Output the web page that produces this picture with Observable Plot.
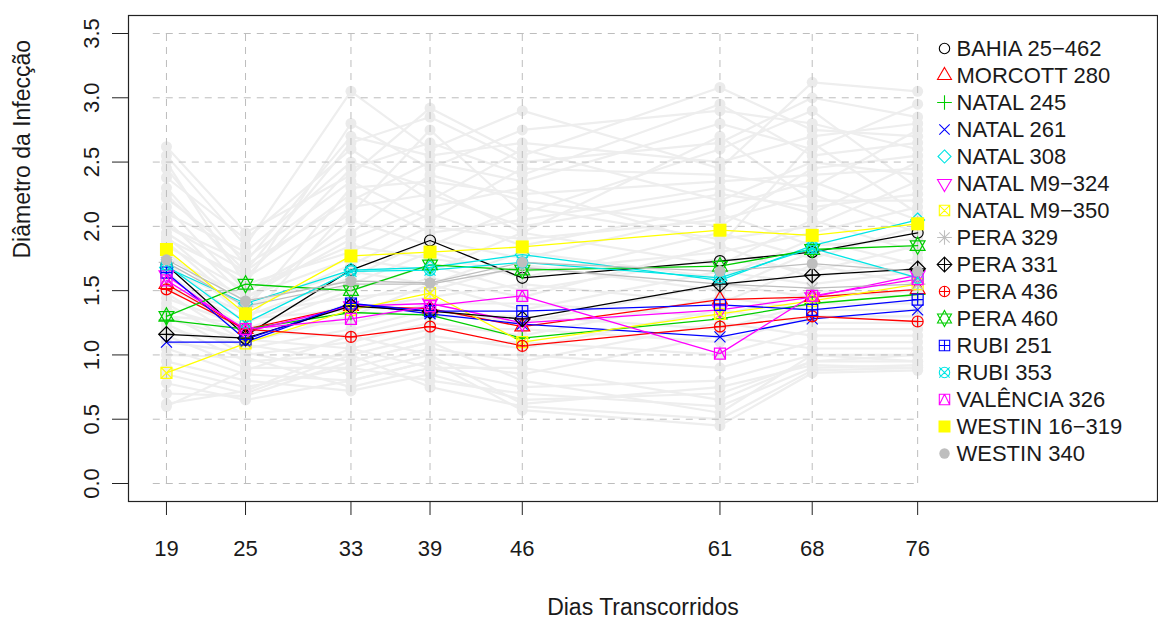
<!DOCTYPE html>
<html>
<head>
<meta charset="utf-8">
<script src="https://cdn.jsdelivr.net/npm/d3@7"></script>
<script src="https://cdn.jsdelivr.net/npm/@observablehq/plot@0.6"></script>
<style>
  html, body { margin: 0; padding: 0; background: #fff; }
  #wrap { position: relative; width: 1158px; height: 620px; }
  #legend { position: absolute; left: 930px; top: 34px; }
</style>
</head>
<body>
<div id="wrap"><div id="legend"></div></div>
<script>
// ---------- data ----------
const days = [19, 25, 33, 39, 46, 61, 68, 76];
const yTicks = [0, 0.5, 1, 1.5, 2, 2.5, 3, 3.5];

const seriesNames = [
  "BAHIA 25−462", "MORCOTT 280", "NATAL 245", "NATAL 261", "NATAL 308",
  "NATAL M9−324", "NATAL M9−350", "PERA 329", "PERA 331", "PERA 436",
  "PERA 460", "RUBI 251", "RUBI 353", "VALÊNCIA 326", "WESTIN 16−319", "WESTIN 340"
];
const seriesColors = [
  "#000000", "#ff0000", "#00cd00", "#0000ff", "#00e5e5",
  "#ff00ff", "#ffff00", "#bebebe", "#000000", "#ff0000",
  "#00cd00", "#0000ff", "#00e5e5", "#ff00ff", "#ffff00", "#bebebe"
];
const seriesPch = [1, 2, 3, 4, 5, 6, 7, 8, 9, 10, 11, 12, 13, 14, 15, 16];

const valBahia     = [1.70, 1.15, 1.66, 1.89, 1.60, 1.73, 1.80, 1.95];
const valMorcott   = [1.55, 1.20, 1.38, 1.36, 1.22, 1.43, 1.45, 1.51];
const valNatal245  = [1.27, 1.20, 1.33, 1.31, 1.13, 1.28, 1.40, 1.47];
const valNatal261  = [1.10, 1.10, 1.40, 1.32, 1.24, 1.14, 1.28, 1.35];
const valNatal308  = [1.68, 1.40, 1.66, 1.68, 1.78, 1.58, 1.85, 2.05];
const valNatalM324 = [1.62, 1.18, 1.38, 1.40, 1.25, 1.35, 1.45, 1.62];
const valNatalM350 = [0.86, 1.09, 1.35, 1.48, 1.10, 1.32, 1.42, 1.55];
const valPera329   = [1.72, 1.38, 1.55, 1.55, 1.68, 1.55, 1.52, 1.55];
const valPera331   = [1.16, 1.13, 1.38, 1.34, 1.28, 1.55, 1.62, 1.67];
const valPera436   = [1.51, 1.20, 1.14, 1.22, 1.07, 1.22, 1.30, 1.26];
const valPera460   = [1.30, 1.55, 1.50, 1.70, 1.66, 1.69, 1.82, 1.85];
const valRubi251   = [1.64, 1.12, 1.40, 1.34, 1.34, 1.39, 1.35, 1.43];
const valRubi353   = [1.70, 1.25, 1.65, 1.66, 1.72, 1.60, 1.83, 1.60];
const valValencia  = [1.58, 1.20, 1.28, 1.38, 1.46, 1.01, 1.46, 1.59];
const valWestin319 = [1.82, 1.32, 1.77, 1.80, 1.84, 1.97, 1.93, 2.02];
const valWestin340 = [1.74, 1.42, 1.575, 1.56, 1.72, 1.65, 1.71, 1.65];

const seriesValues = [
  valBahia, valMorcott, valNatal245, valNatal261, valNatal308, valNatalM324,
  valNatalM350, valPera329, valPera331, valPera436, valPera460, valRubi251,
  valRubi353, valValencia, valWestin319, valWestin340
];

// all other isolates (light grey background), values per day
const backgroundLines = [
  [2.62,1.95,2.40,2.92,2.55,3.08,2.75,2.70],
  [2.55,1.85,3.05,2.60,2.90,2.45,3.12,3.05],
  [2.45,1.70,2.20,2.50,2.35,2.80,2.60,2.95],
  [2.38,1.90,2.60,2.20,2.60,2.20,2.50,2.40],
  [2.30,1.60,2.10,2.75,2.10,2.60,2.90,2.30],
  [2.22,1.75,2.35,2.05,2.45,2.40,2.30,2.75],
  [2.15,1.50,1.95,2.40,2.20,2.00,2.45,2.55],
  [2.10,1.80,2.50,2.30,1.95,2.70,2.20,2.20],
  [2.05,1.45,1.90,2.15,2.30,1.85,2.65,2.10],
  [2.00,1.65,2.25,1.95,2.05,2.30,2.10,2.50],
  [1.95,1.55,1.80,2.10,1.85,2.15,2.35,2.05],
  [1.92,1.40,2.05,1.85,2.15,1.90,2.00,2.35],
  [1.88,1.35,1.70,2.00,1.90,2.05,2.25,1.95],
  [1.85,1.50,1.85,1.75,1.65,1.80,1.95,2.15],
  [1.80,1.30,1.60,1.90,1.75,2.10,1.85,1.90],
  [1.76,1.45,1.75,1.65,1.95,1.70,2.05,1.80],
  [1.72,1.25,1.55,1.80,1.60,1.95,1.75,2.00],
  [1.68,1.38,1.65,1.55,1.80,1.60,1.90,1.70],
  [1.64,1.20,1.50,1.70,1.50,1.75,1.65,1.85],
  [1.60,1.32,1.45,1.50,1.70,1.50,1.80,1.60],
  [1.56,1.15,1.40,1.60,1.45,1.85,1.60,1.75],
  [1.52,1.28,1.35,1.45,1.55,1.40,1.70,1.55],
  [1.48,1.10,1.30,1.55,1.35,1.65,1.55,1.65],
  [1.44,1.22,1.25,1.40,1.40,1.30,1.50,1.45],
  [1.40,1.05,1.20,1.35,1.25,1.55,1.45,1.50],
  [1.36,1.18,1.15,1.30,1.30,1.20,1.40,1.40],
  [1.32,1.00,1.10,1.25,1.15,1.45,1.35,1.35],
  [1.28,1.12,1.05,1.20,1.20,1.10,1.30,1.30],
  [1.24,0.95,1.00,1.15,1.05,1.35,1.25,1.25],
  [1.20,1.08,0.95,1.10,1.10,1.00,1.20,1.20],
  [1.15,0.90,0.90,1.05,0.95,1.25,1.15,1.15],
  [1.10,1.02,0.85,1.00,1.00,0.90,1.10,1.10],
  [1.05,0.85,0.80,0.95,0.85,1.15,1.05,1.05],
  [1.00,0.98,0.75,0.90,0.75,0.80,1.00,1.00],
  [0.95,0.80,0.72,0.85,0.65,0.70,0.95,0.95],
  [0.90,0.75,0.90,0.80,0.70,0.60,0.90,0.92],
  [0.85,0.70,1.00,0.75,0.60,0.50,0.88,0.90],
  [0.78,0.65,0.80,0.95,0.57,0.45,0.86,0.88],
  [0.70,0.68,0.95,1.10,0.80,0.55,1.00,0.95],
  [0.62,0.72,1.05,0.90,0.90,0.65,0.95,1.00],
  [0.60,0.88,1.15,1.00,0.62,0.75,0.92,0.90],
  [2.50,1.55,2.80,2.45,2.75,2.90,2.80,2.60],
  [2.25,1.65,2.65,2.85,2.50,2.65,3.00,2.85],
  [2.00,1.72,2.70,2.55,2.65,2.50,2.70,2.80],
  [1.90,1.60,2.45,2.65,2.40,2.95,2.55,2.65],
  [1.50,1.35,2.30,2.35,2.25,2.35,2.40,2.45],
  [1.30,1.25,2.15,2.25,2.00,2.25,2.15,2.25]
];

// ---------- tables ----------
const bgRows = backgroundLines.flatMap((vals, i) => vals.map((v, j) => ({id: i, day: days[j], value: v})));
const seriesRows = seriesNames.map((name, i) => seriesValues[i].map((v, j) => ({name, day: days[j], value: v})));

// ---------- R-style pch symbols ----------
function pchSymbol(pch) {
  return {
    draw(ctx, size) {
      const R = Math.sqrt(size / Math.PI);
      const circle = (r) => { ctx.moveTo(r, 0); ctx.arc(0, 0, r, 0, 2 * Math.PI); };
      const seg = (x1, y1, x2, y2) => { ctx.moveTo(x1, y1); ctx.lineTo(x2, y2); };
      const poly = (pts) => { ctx.moveTo(pts[0][0], pts[0][1]); for (let k = 1; k < pts.length; k++) ctx.lineTo(pts[k][0], pts[k][1]); ctx.closePath(); };
      const sq = (h) => poly([[-h, -h], [h, -h], [h, h], [-h, h]]);
      const plus = (h) => { seg(-h, 0, h, 0); seg(0, -h, 0, h); };
      const times = (h) => { seg(-h, -h, h, h); seg(-h, h, h, -h); };
      const tri = (down) => {
        const t = 1.555 * R, b = 0.778 * R, w = 1.347 * R, s = down ? -1 : 1;
        poly([[0, -t * s], [w, b * s], [-w, b * s]]);
      };
      switch (pch) {
        case 1: circle(R); break;
        case 2: tri(false); break;
        case 3: plus(1.414 * R); break;
        case 4: times(R); break;
        case 5: poly([[0, -1.253 * R], [1.253 * R, 0], [0, 1.253 * R], [-1.253 * R, 0]]); break;
        case 6: tri(true); break;
        case 7: sq(R); times(R); break;
        case 8: times(R); plus(1.414 * R); break;
        case 9: { const h = 1.414 * R; poly([[0, -h], [h, 0], [0, h], [-h, 0]]); plus(h); break; }
        case 10: circle(R); plus(R); break;
        case 11: {
          const r = 1.555 * R, yc = 1.167 * R * 0.75, xc = 1.347 * R;
          poly([[0, -r], [xc, yc], [-xc, yc]]);
          poly([[0, r], [xc, -yc], [-xc, -yc]]);
          break;
        }
        case 12: sq(R); plus(R); break;
        case 13: circle(R); times(R); break;
        case 14: sq(R); ctx.moveTo(0, -R); ctx.lineTo(R, R); ctx.moveTo(0, -R); ctx.lineTo(-R, R); break;
        case 15: sq(R); break;
        case 16: circle(R); break;
      }
    }
  };
}
const isFilled = (pch) => pch === 15 || pch === 16;

// ---------- main plot ----------
const FONT = "'Liberation Sans', Arial, sans-serif";
const marks = [];

// background isolates
marks.push(Plot.line(bgRows, {x: "day", y: "value", z: "id", stroke: "#eeeeee", strokeWidth: 2.2}));
marks.push(Plot.dot(bgRows, {x: "day", y: "value", r: 5.5, fill: "#ebebeb", stroke: "none"}));

// grid
marks.push(Plot.ruleX(days, {x: d => d, y1: yTicks[0], y2: yTicks[yTicks.length - 1], stroke: "#bdbdbd", strokeWidth: 1, strokeDasharray: "7,6"}));
marks.push(Plot.ruleY(yTicks, {y: d => d, x1: days[0] - 1, x2: days[days.length - 1], stroke: "#bdbdbd", strokeWidth: 1, strokeDasharray: "7,6"}));

// highlighted isolates
seriesRows.forEach((rows, i) => {
  marks.push(Plot.line(rows, {x: "day", y: "value", stroke: seriesColors[i], strokeWidth: 1.3}));
});
seriesRows.forEach((rows, i) => {
  const pch = seriesPch[i];
  marks.push(Plot.dot(rows, {
    x: "day", y: "value", r: pch === 15 ? 6.5 : 5.5, symbol: pchSymbol(pch),
    fill: isFilled(pch) ? seriesColors[i] : "none",
    stroke: isFilled(pch) ? "none" : seriesColors[i],
    strokeWidth: 1.2
  }));
});

// frame and axes
marks.push(Plot.frame({stroke: "#222", strokeWidth: 1.2}));
marks.push(Plot.axisX({ticks: days, tickSize: 14, tickFormat: () => "", label: null, stroke: "#222"}));
marks.push(Plot.axisY({ticks: yTicks, tickSize: 16, tickFormat: () => "", label: null, stroke: "#222"}));
marks.push(Plot.text(days, {x: d => d, frameAnchor: "bottom", dy: 47, text: d => String(d), lineAnchor: "middle", fontSize: 22, fill: "#1a1a1a"}));
marks.push(Plot.text(yTicks, {y: d => d, frameAnchor: "left", dx: -37, rotate: -90, text: d => d.toFixed(1), textAnchor: "middle", lineAnchor: "middle", fontSize: 22, fill: "#1a1a1a"}));
marks.push(Plot.text(["Dias Transcorridos"], {frameAnchor: "bottom", dy: 106, text: d => d, lineAnchor: "middle", fontSize: 23, fill: "#1a1a1a"}));
marks.push(Plot.text(["Diâmetro da Infecção"], {frameAnchor: "left", dx: -106, rotate: -90, text: d => d, lineAnchor: "middle", fontSize: 23, fill: "#1a1a1a"}));

const chart = Plot.plot({
  width: 1158,
  height: 620,
  marginLeft: 128,
  marginRight: 1,
  marginTop: 15,
  marginBottom: 119,
  x: {type: "linear", domain: [16.12, 94.2], label: null},
  y: {type: "linear", domain: [-0.14, 3.64], label: null},
  style: {fontFamily: FONT, fontSize: "22px", background: "#fff", overflow: "visible"},
  marks
});
document.getElementById("wrap").prepend(chart);

// ---------- legend (inside the plot region, top-right) ----------
const legendRows = seriesNames.map((name, i) => ({name, i}));
const legendMarks = [];
legendRows.forEach((row) => {
  const pch = seriesPch[row.i];
  legendMarks.push(Plot.dot([row], {
    x: () => 0, y: "name", r: pch === 15 ? 6 : 5.2, symbol: pchSymbol(pch),
    fill: isFilled(pch) ? seriesColors[row.i] : "none",
    stroke: isFilled(pch) ? "none" : seriesColors[row.i],
    strokeWidth: 1.1
  }));
});
legendMarks.push(Plot.text(legendRows, {x: () => 0, y: "name", text: "name", dx: 12, textAnchor: "start", lineAnchor: "middle", fontSize: 22, fill: "#1a1a1a"}));

const legend = Plot.plot({
  width: 227,
  height: 433,
  marginLeft: 14,
  marginRight: 0,
  marginTop: 10,
  marginBottom: 10,
  x: {domain: [0, 1], axis: null},
  y: {type: "point", domain: seriesNames, padding: 0, axis: null},
  style: {fontFamily: FONT, fontSize: "22px", background: "transparent", overflow: "visible"},
  marks: legendMarks
});
document.getElementById("legend").appendChild(legend);
</script>
</body>
</html>
